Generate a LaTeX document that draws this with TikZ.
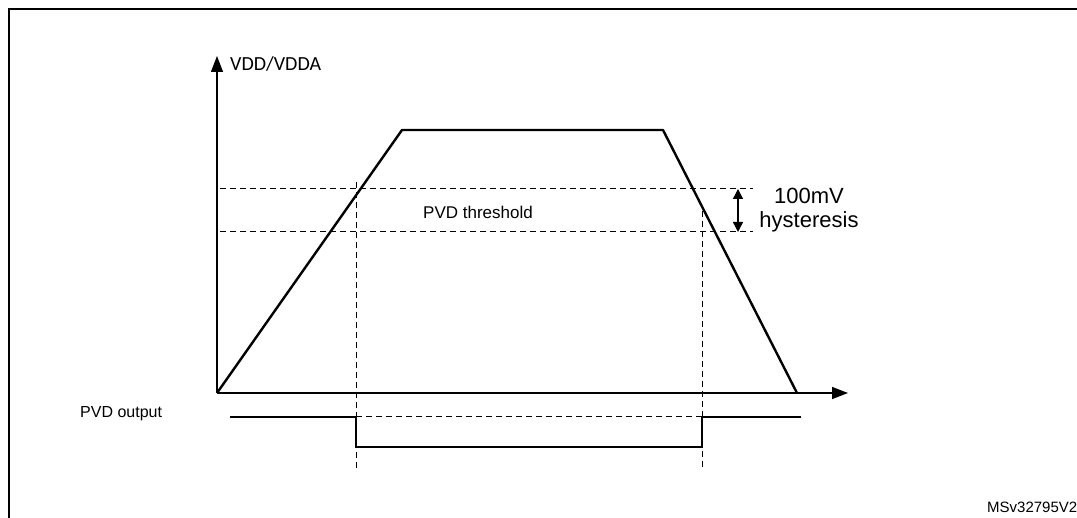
\documentclass[tikz,border=0pt]{standalone}
\usepackage{fontspec}
\setmainfont{Liberation Sans}
\newfontfamily\calibri{Carlito}
\usetikzlibrary{arrows.meta}
\tikzset{
  sig/.style={line width=2.4pt},
  axis/.style={line width=1.4pt,-{Triangle[length=16pt,width=12pt]}},
  guide/.style={line width=1pt,dash pattern=on 6pt off 4pt},
  lbl/.style={font=\fontsize{17}{20}\selectfont,inner sep=0pt},
  biglbl/.style={font=\fontsize{22}{25}\selectfont,inner sep=0pt},
}
\begin{document}
\begin{tikzpicture}[x=1pt,y=-1pt]
\useasboundingbox (0,0) rectangle (1077,518);
% frame
\draw[line width=2pt] (9,518) -- (9,9) -- (1077,9);
% axes
\coordinate (o) at (217,393);
\coordinate (ytop) at (217,56);
\coordinate (xend) at (848,393);
\draw[axis] (o) -- (ytop);
\draw[axis] (o) -- (xend);
\node[font=\calibri\fontsize{20}{23}\selectfont,anchor=west,inner sep=0pt] (vdd) at (230,64) {VDD/VDDA};
% supply curve
\coordinate (p1) at (402,130);
\coordinate (p2) at (663,130);
\coordinate (p3) at (797,393);
\draw[sig,line join=round] (o) -- (p1) -- (p2) -- (p3);
% thresholds
\coordinate (hiL) at (220,189);
\coordinate (hiR) at (753,189);
\coordinate (loL) at (220,232);
\coordinate (loR) at (753,232);
\draw[guide] (hiL) -- (hiR);
\draw[guide] (loL) -- (loR);
\coordinate (ha) at (738,189);
\coordinate (hb) at (738,232);
\draw[line width=1.4pt,{Triangle[length=10pt,width=10pt]}-{Triangle[length=10pt,width=10pt]}] (ha) -- (hb);
\node[biglbl] (mv) at (809,196) {100mV};
\node[biglbl] (hyst) at (809,222) {hysteresis};
\node[lbl] (thr) at (478,212) {PVD threshold};
% crossing markers
\coordinate (c1t) at (356,182);
\coordinate (c1b) at (356,468);
\coordinate (c2t) at (702,211);
\coordinate (c2b) at (702,468);
\draw[guide] (c1t) -- (c1b);
\draw[guide] (c2t) -- (c2b);
% output
\coordinate (s0) at (230,417);
\coordinate (s1) at (356,417);
\coordinate (s2) at (356,447);
\coordinate (s3) at (702,447);
\coordinate (s4) at (702,417);
\coordinate (s5) at (801,417);
\draw[sig] (s0) -- (s1) -- (s2) -- (s3) -- (s4) -- (s5);
\draw[guide] (s1) -- (s4);
\node[font=\fontsize{16}{19}\selectfont,inner sep=0pt,anchor=west] (out) at (80,414) {PVD output};
\node[font=\fontsize{15}{18}\selectfont,anchor=west,inner sep=0pt] (ref) at (987,507) {MSv32795V2};
\end{tikzpicture}
\end{document}
